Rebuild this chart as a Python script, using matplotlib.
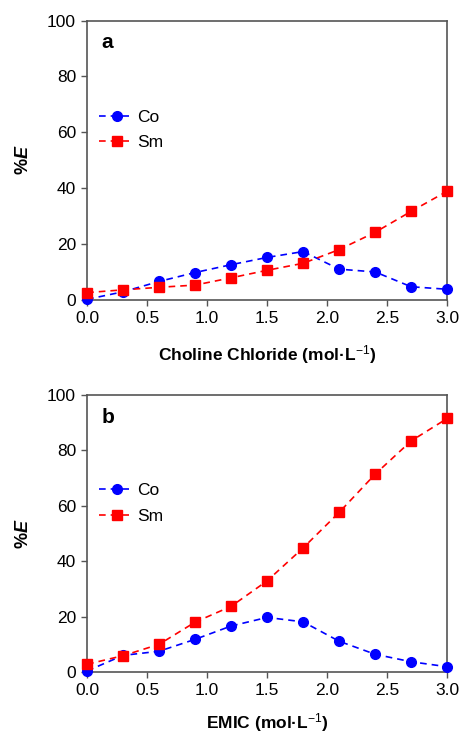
import matplotlib.pyplot as plt
import numpy as np

plt.rcParams['font.family'] = ['Liberation Sans', 'DejaVu Sans']
plt.rcParams['mathtext.fontset'] = 'custom'
plt.rcParams['mathtext.rm'] = 'Liberation Sans'
plt.rcParams['mathtext.bf'] = 'Liberation Sans:bold'
plt.rcParams['mathtext.it'] = 'Liberation Sans:italic'
plt.rcParams['mathtext.bfit'] = 'Liberation Sans:bold:italic'

conc = [0.0, 0.3, 0.6, 0.9, 1.2, 1.5, 1.8, 2.1, 2.4, 2.7, 3.0]

co_cc = [0.2, 2.9, 6.6, 9.8, 12.6, 15.2, 17.3, 11.0, 10.0, 4.7, 3.8]
sm_cc = [2.6, 3.6, 4.5, 5.3, 7.9, 10.6, 13.1, 18.0, 24.2, 31.7, 38.9]

co_emic = [0.4, 6.0, 7.5, 11.8, 16.6, 19.7, 18.1, 11.1, 6.4, 3.7, 1.9]
sm_emic = [2.8, 5.9, 10.0, 18.0, 23.7, 32.9, 44.8, 57.6, 71.4, 83.4, 91.5]

panels = [
    ('a', co_cc, sm_cc, 'Choline Chloride (mol·L$^{\\mathrm{-1}}$)', [0.189, 0.592, 0.781, 0.380], 12),
    ('b', co_emic, sm_emic, 'EMIC (mol·L$^{\\mathrm{-1}}$)', [0.189, 0.0857, 0.781, 0.377], 9),
]

fig = plt.figure(figsize=(4.61, 7.35), dpi=100)
spine_col = '#555555'

for letter, co, sm, xlab, rect, xpad in panels:
    ax = fig.add_axes(rect)
    ax.plot(conc, co, '--o', color='#0000ff', markersize=7, lw=1.2,
            dashes=(4, 3), label='Co', clip_on=False, zorder=3)
    ax.plot(conc, sm, '--s', color='#ff0000', markersize=6.5, lw=1.2,
            dashes=(4, 3), label='Sm', clip_on=False, zorder=3)
    ax.set_xlim(0, 3)
    ax.set_ylim(0, 100)
    ax.set_xticks(np.arange(0, 3.01, 0.5))
    ax.set_xticklabels(['%.1f' % v for v in np.arange(0, 3.01, 0.5)])
    ax.set_yticks(np.arange(0, 101, 20))
    ax.tick_params(direction='out', length=4, width=1, color=spine_col,
                   labelsize=12.5, pad=4)
    for s in ax.spines.values():
        s.set_color(spine_col)
        s.set_linewidth(1.2)
    ax.set_xlabel(xlab, fontsize=12.5, fontweight='bold', labelpad=xpad)
    ax.set_ylabel('%$\\mathbfit{E}$', fontsize=13, fontweight='bold', labelpad=11)
    ax.text(0.04, 0.92, letter, transform=ax.transAxes, fontsize=15,
            fontweight='bold', va='center')
    ax.legend(loc='upper left', bbox_to_anchor=(0.0, 0.725), frameon=False,
              fontsize=12.5, handlelength=2.0, handletextpad=0.2,
              labelspacing=0.6, borderaxespad=0.3)

fig.savefig('out.png', dpi=100)
